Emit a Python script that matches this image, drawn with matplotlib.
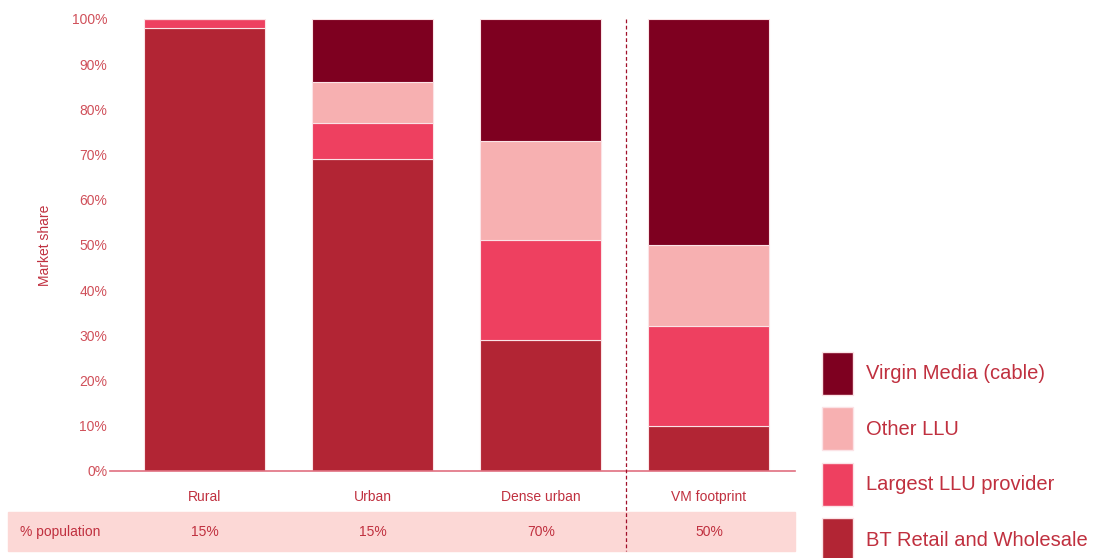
import matplotlib
matplotlib.use("Agg")
import matplotlib.pyplot as plt
from matplotlib.patches import Patch, Rectangle
from matplotlib.lines import Line2D
import numpy as np

plt.rcParams["font.family"] = ["Liberation Sans", "DejaVu Sans"]

categories = ["Rural", "Urban", "Dense urban", "VM footprint"]
population = ["15%", "15%", "70%", "50%"]
series_names = ["BT Retail and Wholesale", "Largest LLU provider", "Other LLU", "Virgin Media (cable)"]
bt = [98, 69, 29, 10]
largest_llu = [2, 8, 22, 22]
other_llu = [0, 9, 22, 18]
virgin = [0, 14, 27, 50]
colors = ["#b22534", "#ee4060", "#f7b0b1", "#7e0020"]

text_col = "#c0303f"
tick_col = "#d0505a"

fig = plt.figure(figsize=(10.95, 5.58), dpi=100)
W, H = 1095, 558
ax = fig.add_axes([110 / W, 1 - 471 / H, (795 - 110) / W, (471 - 19) / H])

x = np.arange(len(categories)) * 168 + 205
bottom = np.zeros(len(categories))
for vals, col in zip([bt, largest_llu, other_llu, virgin], colors):
    ax.bar(x, vals, width=121, bottom=bottom, color=col, edgecolor="#fbe3e6", linewidth=0.8)
    bottom += np.array(vals)

ax.set_xlim(110, 795)
ax.set_ylim(0, 100)
ax.set_yticks(range(0, 101, 10))
ax.set_yticklabels([f"{v}%" for v in range(0, 101, 10)])
ax.set_xticks(x)
ax.set_xticklabels(categories)
ax.tick_params(axis="y", length=0, pad=2, labelsize=10, labelcolor=tick_col)
ax.tick_params(axis="x", length=0, pad=14, labelsize=10, labelcolor=text_col)
for s in ["top", "right", "left"]:
    ax.spines[s].set_visible(False)
ax.spines["bottom"].set_color("#e07080")
ax.spines["bottom"].set_linewidth(1.2)
ax.set_ylabel("Market share", color=text_col, fontsize=10, labelpad=14)

# population band
fig.patches.append(Rectangle((8 / W, 1 - 551 / H), (795 - 8) / W, 39 / H,
                             transform=fig.transFigure, color="#fcd8d6", zorder=0))
fig.text(60 / W, 1 - 532 / H, "% population", ha="center", va="center", fontsize=10, color=text_col)
for xi, p in zip(x, population):
    fig.text(xi / W, 1 - 532 / H, p, ha="center", va="center", fontsize=10, color=text_col)

# dashed separator
fig.lines.append(Line2D([626 / W, 626 / W], [1 - 19 / H, 1 - 551 / H], transform=fig.transFigure,
                        color="#a0102a", linestyle=(0, (3, 2)), linewidth=0.9))

handles = [Patch(facecolor=c, edgecolor="#fbe3e6") for c in colors[::-1]]
leg = fig.legend(handles, series_names[::-1], loc="upper left", bbox_to_anchor=(814 / W, 1 - 344 / H),
                 frameon=False, fontsize=14.5, handlelength=1.55, handleheight=2.9,
                 labelspacing=0.62, handletextpad=0.65, borderaxespad=0)
for t in leg.get_texts():
    t.set_color(text_col)

fig.savefig("out.png", dpi=100)
